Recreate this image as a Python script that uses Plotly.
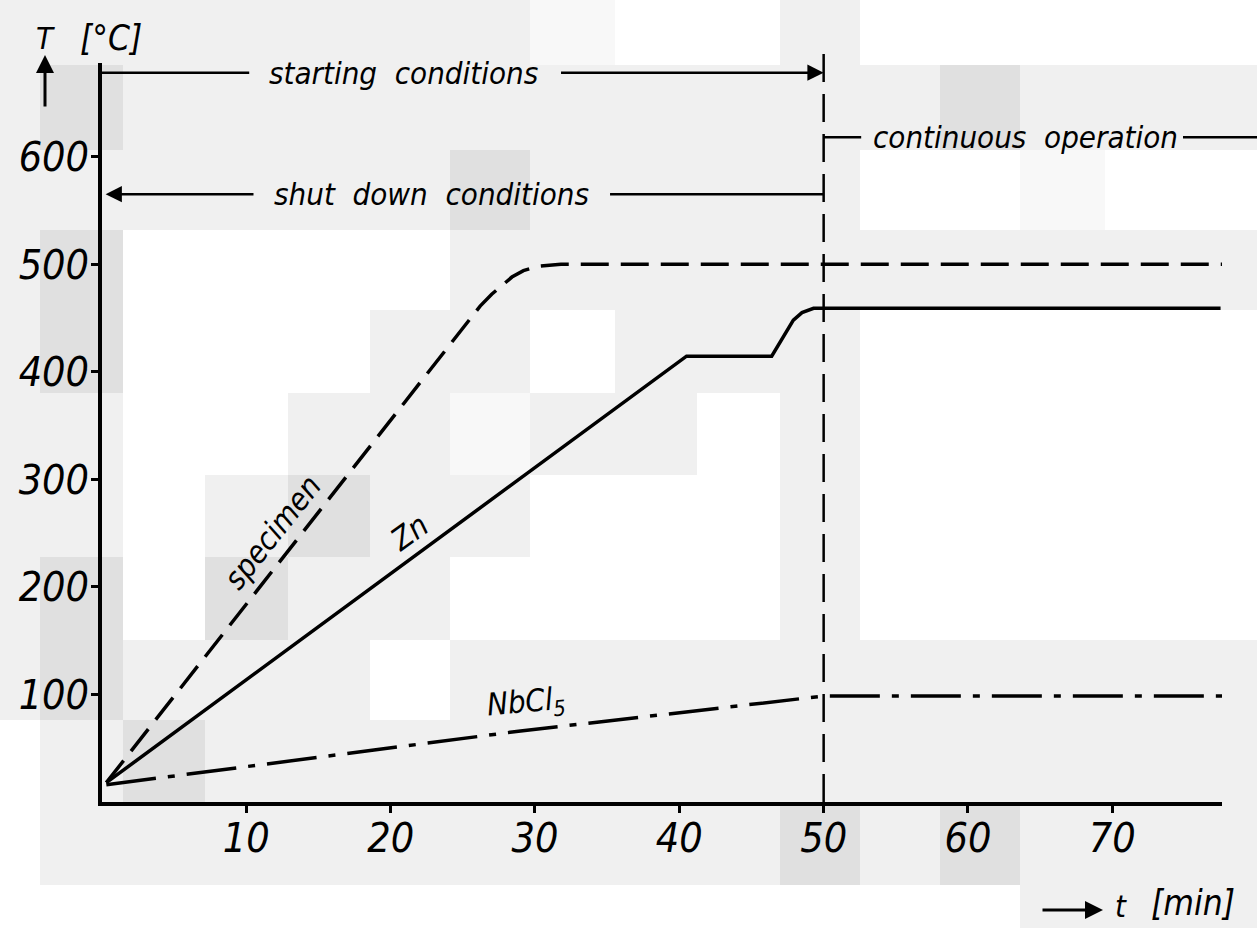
import plotly.graph_objects as go

# ---------------- data ----------------
time_specimen = [0.3, 26.2, 27.0, 27.6, 28.4, 29.2, 30.2, 31.8, 77.6]
temp_specimen = [18, 461, 472, 479, 488, 494, 498, 500, 500]

time_zn = [0.3, 40.5, 46.4, 47.2, 47.9, 48.5, 49.3, 77.5]
temp_zn = [18, 414.5, 414.5, 432, 448, 455, 459, 459]

time_nbcl5 = [0.3, 29.0, 50.0, 78.0]
temp_nbcl5 = [16, 66, 98.5, 98.5]

x_ticks = [10, 20, 30, 40, 50, 60, 70]
y_ticks = [100, 200, 300, 400, 500, 600]

t_switch = 50          # start of continuous operation [min]

# ---------------- geometry / style ----------------
W, H = 1257, 928
ML, MR, MT, MB = 102, 35, 63, 126
PW, PH = W - ML - MR, H - MT - MB
FONT = "DejaVu Sans Condensed, DejaVu Sans, sans-serif"
BG = "#f0f0f0"


def px(xpix):
    return (xpix - ML) / PW


def py(ypix):
    return (H - MB - ypix) / PH


# scanned-page background blocks (pixel boxes, colour)
bg_blocks = [
    ((530, 0, 615, 65), "#f8f8f8"), ((615, 0, 780, 65), "#ffffff"),
    ((860, 0, 1257, 65), "#ffffff"),
    ((40, 65, 123, 150), "#e0e0e0"), ((940, 65, 1020, 150), "#e0e0e0"),
    ((450, 150, 530, 230), "#e0e0e0"),
    ((860, 150, 1257, 230), "#ffffff"), ((1020, 150, 1105, 230), "#f8f8f8"),
    ((40, 230, 123, 393), "#e0e0e0"),
    ((123, 230, 450, 310), "#ffffff"),
    ((123, 310, 370, 393), "#ffffff"), ((530, 310, 615, 393), "#ffffff"),
    ((123, 393, 288, 475), "#ffffff"), ((450, 393, 530, 475), "#f8f8f8"),
    ((697, 393, 780, 475), "#ffffff"),
    ((123, 475, 205, 640), "#ffffff"), ((288, 475, 370, 557), "#e0e0e0"),
    ((530, 475, 780, 557), "#ffffff"),
    ((205, 557, 288, 640), "#e0e0e0"), ((450, 557, 780, 640), "#ffffff"),
    ((40, 557, 123, 720), "#e0e0e0"),
    ((860, 310, 1257, 640), "#ffffff"),
    ((370, 640, 450, 720), "#ffffff"),
    ((123, 720, 205, 802), "#e0e0e0"),
    ((780, 802, 860, 885), "#e0e0e0"), ((940, 802, 1020, 885), "#e0e0e0"),
    ((0, 720, 40, 928), "#ffffff"), ((0, 885, 1020, 928), "#ffffff"),
]

fig = go.Figure()

fig.add_trace(go.Scatter(x=time_specimen, y=temp_specimen, mode="lines",
                         line=dict(color="black", width=3.5, dash="28px,12px"),
                         hoverinfo="skip", showlegend=False))
fig.add_trace(go.Scatter(x=time_zn, y=temp_zn, mode="lines",
                         line=dict(color="black", width=3.5),
                         hoverinfo="skip", showlegend=False))
fig.add_trace(go.Scatter(x=time_nbcl5, y=temp_nbcl5, mode="lines",
                         line=dict(color="black", width=3.5, dash="50px,12px,7px,12px"),
                         hoverinfo="skip", showlegend=False))

shapes = []
for (x0, y0, x1, y1), col in bg_blocks:
    shapes.append(dict(type="rect", xref="paper", yref="paper",
                       x0=px(x0), x1=px(x1), y0=py(y1), y1=py(y0),
                       fillcolor=col, line=dict(width=0), layer="below"))

# vertical dashed line at t = 50 min
shapes.append(dict(type="line", xref="x", yref="paper", x0=t_switch, x1=t_switch,
                   y0=0, y1=py(50), line=dict(color="black", width=2.5, dash="28px,12px")))

y_start, y_cont, y_shut = 678, 618, 565
seg = dict(color="black", width=2.5)
# starting conditions (left part of the line)
shapes.append(dict(type="line", xref="x", yref="y", x0=0, x1=10.2, y0=y_start, y1=y_start, line=seg))
# shut down conditions (right part of the line)
shapes.append(dict(type="line", xref="x", yref="y", x0=35.2, x1=t_switch, y0=y_shut, y1=y_shut, line=seg))
# continuous operation
shapes.append(dict(type="line", xref="x", yref="y", x0=t_switch, x1=52.6, y0=y_cont, y1=y_cont, line=seg))
shapes.append(dict(type="line", xref="paper", yref="y", x0=px(1183), x1=1.04, y0=y_cont, y1=y_cont, line=seg))

ann = []
tfont = dict(family=FONT, size=31, color="black", style="italic")
bfont = dict(family=FONT, size=35, color="black", style="italic")
C = dict(xanchor="center", yanchor="middle", showarrow=False)
# arrows
ann.append(dict(x=t_switch, y=y_start, ax=31.7, ay=y_start, xref="x", yref="y", axref="x", ayref="y",
                text="", showarrow=True, arrowhead=2, arrowsize=1.3, arrowwidth=2.5, arrowcolor="black",
                standoff=0))
ann.append(dict(x=0.25, y=y_shut, ax=10.6, ay=y_shut, xref="x", yref="y", axref="x", ayref="y",
                text="", showarrow=True, arrowhead=2, arrowsize=1.3, arrowwidth=2.5, arrowcolor="black",
                standoff=0))
# labels on the arrows
ann.append(dict(x=20.9, y=y_start, xref="x", yref="y", text="starting  conditions", font=tfont, **C))
ann.append(dict(x=22.8, y=y_shut, xref="x", yref="y", text="shut  down  conditions", font=tfont, **C))
ann.append(dict(x=64.0, y=y_cont, xref="x", yref="y", text="continuous  operation", font=tfont, **C))
# curve labels
ann.append(dict(x=11.8, y=251, xref="x", yref="y", text="specimen", textangle=-51.6, font=tfont, **C))
ann.append(dict(x=21.3, y=251, xref="x", yref="y", text="Zn", textangle=-36, font=tfont, **C))
ann.append(dict(x=29.4, y=92, xref="x", yref="y", text="NbCl<sub>5</sub>", textangle=-5, font=tfont, **C))
# axis titles
ann.append(dict(x=px(45), y=py(38), xref="paper", yref="paper", text="T", font=tfont, **C))
ann.append(dict(x=px(111), y=py(38), xref="paper", yref="paper", text="[°C]", font=bfont, **C))
ann.append(dict(x=px(45), y=py(55), ax=0, ay=53, xref="paper", yref="paper",
                text="", showarrow=True, arrowhead=2, arrowsize=1.2, arrowwidth=3, arrowcolor="black",
                standoff=0))
ann.append(dict(x=px(1103), y=py(910), ax=-62, ay=0, xref="paper", yref="paper",
                text="", showarrow=True, arrowhead=2, arrowsize=1.2, arrowwidth=3, arrowcolor="black",
                standoff=0))
ann.append(dict(x=px(1121), y=py(906), xref="paper", yref="paper", text="t", font=tfont, **C))
ann.append(dict(x=px(1193), y=py(903), xref="paper", yref="paper", text="[min]", font=bfont, **C))

tick_font = dict(family=FONT, size=41, color="black", style="italic")
fig.update_layout(
    width=W, height=H,
    margin=dict(l=ML, r=MR, t=MT, b=MB),
    paper_bgcolor=BG, plot_bgcolor="rgba(0,0,0,0)",
    shapes=shapes, annotations=ann, showlegend=False,
    xaxis=dict(range=[0, 77.6], tickvals=x_ticks, ticktext=[str(v) for v in x_ticks],
               showgrid=False, zeroline=False, showline=True, linecolor="black", linewidth=3.5,
               ticks="outside", ticklen=7, tickwidth=3, tickcolor="black",
               ticklabelstandoff=-10,
               tickfont=tick_font, fixedrange=True),
    yaxis=dict(range=[0, 687], tickvals=y_ticks, ticktext=[str(v) for v in y_ticks],
               showgrid=False, zeroline=False, showline=True, linecolor="black", linewidth=3.5,
               ticks="outside", ticklen=7, tickwidth=3, tickcolor="black",
               ticklabelstandoff=-6,
               tickfont=tick_font, fixedrange=True),
)

fig.write_html("out.html", config={"displayModeBar": False},
               post_script="document.body.style.margin='0';document.body.style.overflow='hidden';")
